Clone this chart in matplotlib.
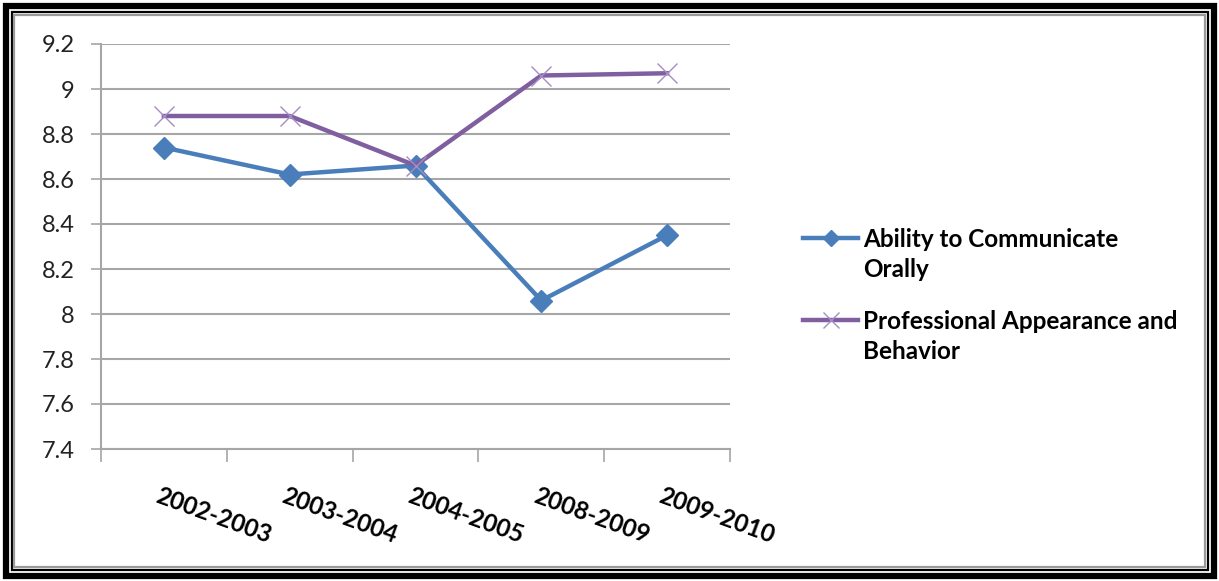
import numpy as np
import matplotlib
matplotlib.use("Agg")
import matplotlib.pyplot as plt
from matplotlib.lines import Line2D
from matplotlib.patches import Rectangle
from matplotlib.ticker import FuncFormatter

plt.rcParams['font.family'] = ['Lato', 'DejaVu Sans']

# data
years = ["2002-2003", "2003-2004", "2004-2005", "2008-2009", "2009-2010"]
oral = [8.74, 8.62, 8.66, 8.06, 8.35]
appearance = [8.88, 8.88, 8.66, 9.06, 9.07]
series_names = ["Ability to Communicate\nOrally", "Professional Appearance and\nBehavior"]

blue = "#4A7EBB"
purple = "#7F5FA0"
grid = "#A6A6A6"

W, H = 1219, 581
fig = plt.figure(figsize=(W / 100, H / 100), dpi=100)

# double frame round the whole picture
fig.add_artist(Rectangle((5.5 / W, 5.5 / H), 1 - 11 / W, 1 - 11 / H, transform=fig.transFigure,
                         fill=False, ec="black", lw=4.5))
fig.add_artist(Rectangle((11.5 / W, 11.5 / H), 1 - 23 / W, 1 - 23 / H, transform=fig.transFigure,
                         fill=False, ec="black", lw=1.6))
fig.add_artist(Rectangle((14.5 / W, 14.5 / H), 1 - 29 / W, 1 - 29 / H, transform=fig.transFigure,
                         fill=False, ec="#9A9A9A", lw=1.6))

ax = fig.add_axes([101 / W, 1 - 449 / H, (730 - 101) / W, (449 - 44) / H])
x = np.arange(len(years))

ax.plot(x, oral, color=blue, lw=3.2, marker="D", ms=11, mfc=blue, mec=blue, zorder=3)
ax.plot(x, appearance, color=purple, lw=3.2, marker="x", ms=15, mew=1.0,
        mec="#A58CC4", zorder=3)

ax.set_xlim(-0.5, len(years) - 0.5)
ax.set_ylim(7.4, 9.2)
ax.set_yticks(np.arange(7.4, 9.21, 0.2))
ax.yaxis.set_major_formatter(FuncFormatter(lambda v, p: "%g" % round(v, 1)))
ax.set_xticks(np.arange(-0.5, len(years), 1.0))
ax.set_xticklabels([])
ax.tick_params(axis="x", length=9, width=1.2, color=grid, direction="out")
ax.tick_params(axis="y", length=7, width=1.2, color=grid, direction="out", pad=12,
               labelsize=17, labelcolor="#222222")
ax.grid(axis="y", color=grid, lw=1.5)
ax.set_axisbelow(True)
for s in ["top", "right"]:
    ax.spines[s].set_visible(False)
for s in ["left", "bottom"]:
    ax.spines[s].set_color(grid)
    ax.spines[s].set_linewidth(1.5)

# rotated category labels
for i, lab in enumerate(years):
    ax.annotate(lab, xy=(i, 7.4), xycoords="data", xytext=(-3, -35), textcoords="offset pixels",
                rotation=-20, rotation_mode="anchor", ha="left", va="top",
                fontsize=17.5, fontweight="bold", color="black")

# legend on the right
for name, color, mk, ms, mec, y in [(series_names[0], blue, "D", 8, blue, 238),
                                    (series_names[1], purple, "x", 12, "#A58CC4", 320)]:
    fig.add_artist(Line2D([803 / W, 858 / W], [1 - y / H, 1 - y / H], transform=fig.transFigure,
                          color=color, lw=3.2))
    fig.add_artist(Line2D([830.5 / W], [1 - y / H], transform=fig.transFigure, marker=mk,
                          ms=ms, mew=1.0, color=color, mfc=color, mec=mec))
    fig.text(863 / W, 1 - (y - 10) / H, name, ha="left", va="top", fontsize=17.5,
             fontweight="bold", linespacing=1.36, color="black")

fig.savefig("out.png", dpi=100)
